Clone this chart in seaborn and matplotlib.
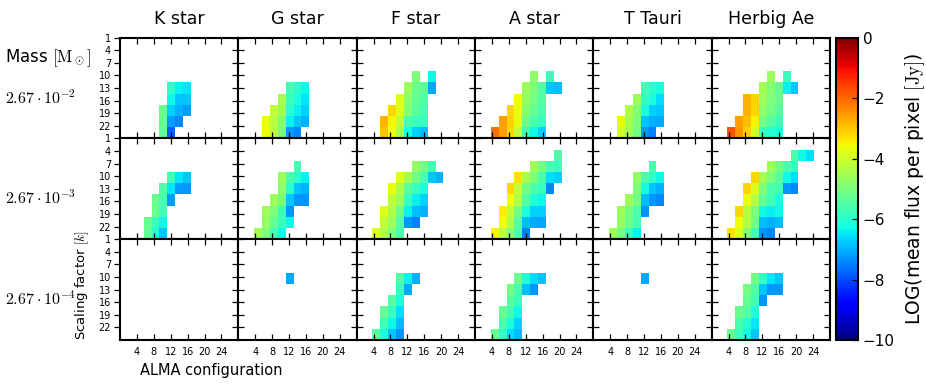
import numpy as np
import matplotlib
matplotlib.use('Agg')
import matplotlib.pyplot as plt
import matplotlib.lines as mlines
import seaborn as sns

plt.rcParams['mathtext.fontset'] = 'cm'

# Grid: 9 scaling-factor bins (1..25) x 15 ALMA configuration bins (0..28)
N_ROWS = 9
N_COLS = 15
CONFIG_RANGE = (0, 28)
SCALE_RANGE = (1, 25)
CONFIG_TICKS = [4, 8, 12, 16, 20, 24]
SCALE_TICKS = [1, 4, 7, 10, 13, 16, 19, 22]

STARS = ['K star', 'G star', 'F star', 'A star', 'T Tauri', 'Herbig Ae']
MASSES = [r'$2.67\cdot10^{-2}$', r'$2.67\cdot10^{-3}$', r'$2.67\cdot10^{-4}$']

# Each entry: (row, first column, LOG flux values along the row; None = empty cell)
K_HIGH = [
    (4, 6, [-5.9, -6.4, -6.5]),
    (5, 6, [-6.3, -6.8, -6.8]),
    (6, 5, [-5.2, -6.7, -7.0, -7.2]),
    (7, 5, [-5.3, -7.2, -7.4]),
    (8, 5, [-5.3, -7.8]),
]
G_HIGH = [
    (4, 6, [-5.7, -6.0, -6.3]),
    (5, 5, [-4.5, -5.8, -6.2, -6.5]),
    (6, 4, [-4.2, -4.6, -6.0, -6.4, -6.7]),
    (7, 3, [-3.7, -4.3, -5.0, -6.4, -6.8, -7.0]),
    (8, 3, [-3.6, -4.3, -5.0, -7.2, -7.4]),
]
F_HIGH = [
    (3, 7, [-5.0, None, -6.3]),
    (4, 6, [-4.6, -5.2, -5.4, -7.1]),
    (5, 5, [-3.8, -4.8, -5.3, -5.5]),
    (6, 4, [-3.2, -3.8, -4.9, -5.4, -5.7]),
    (7, 3, [-2.8, -3.5, -4.2, -5.6, -5.8, -5.8]),
    (8, 3, [-3.0, -3.6, -4.4, -6.2, -6.7, -6.9]),
]
A_HIGH = [
    (3, 7, [-4.8, None, -5.8]),
    (4, 6, [-4.6, -5.0, -5.5, -6.8, -6.9]),
    (5, 5, [-3.6, -4.7, -5.1, -5.5]),
    (6, 4, [-3.2, -3.7, -4.9, -5.3, -5.6]),
    (7, 3, [-2.6, -3.1, -3.7, -5.3, -5.6, -5.8]),
    (8, 2, [-2.1, -2.6, -3.2, -4.2, -5.8, -6.3, -6.7]),
]
T_HIGH = [
    (4, 6, [-5.7, -6.0, -6.2]),
    (5, 5, [-4.6, -5.8, -6.2, -6.6]),
    (6, 4, [-4.4, -4.9, -6.1, -6.7, -6.8]),
    (7, 3, [-3.7, -4.5, -5.0, -6.8, -7.0, -7.1]),
    (8, 3, [-4.0, -4.5, -5.1, -7.3, -7.5]),
]
H_HIGH = [
    (3, 7, [-4.6, None, -5.8]),
    (4, 6, [-4.5, -4.9, -5.2, -6.4, -6.8]),
    (5, 4, [-2.8, -3.2, -4.6, -5.0, -5.2]),
    (6, 4, [-2.8, -3.2, -4.8, -5.1, -5.4]),
    (7, 3, [-2.6, -2.9, -3.5, -5.1, -5.5, -5.7]),
    (8, 2, [-1.8, -2.5, -3.1, -4.0, -5.8, -6.0, -6.1]),
]

K_MID = [
    (3, 6, [-5.7, -6.5, -6.8]),
    (4, 5, [-5.5, -6.5, -7.2, -7.3]),
    (5, 4, [-5.2, -5.6, -7.2]),
    (6, 4, [-5.2, -5.7]),
    (7, 3, [-5.2, -5.8, -6.3]),
    (8, 3, [-5.3, -6.0, -6.8]),
]
G_MID = [
    (2, 7, [-5.7]),
    (3, 5, [-4.6, -5.6, -6.0, -6.4]),
    (4, 5, [-4.8, -6.0, -6.8, -7.0]),
    (5, 4, [-4.6, -5.1, -6.8, -7.3, -7.3]),
    (6, 3, [-4.6, -5.0, -5.8, -7.3]),
    (7, 3, [-4.7, -5.3, -5.8, -6.3]),
    (8, 2, [-4.5, -5.0, -5.7, -6.3]),
]
F_MID = [
    (2, 7, [-4.7, -5.1, -5.7]),
    (3, 5, [-3.8, -4.5, -5.1, -5.6, -6.8, -7.0]),
    (4, 4, [-3.7, -4.4, -5.4, -5.8, -6.2]),
    (5, 4, [-4.2, -4.6, -5.8, -6.4, -6.7]),
    (6, 3, [-3.8, -4.4, -5.2, -6.4, -6.9, -7.0]),
    (7, 3, [-4.2, -4.6, -5.5, -7.3, -7.5]),
    (8, 2, [-3.9, -4.4, -5.0, -5.6]),
]
A_MID = [
    (1, 10, [-5.6]),
    (2, 7, [-4.6, -5.1, -5.7, -5.8]),
    (3, 5, [-3.3, -4.5, -5.0, -5.6, -6.6, -6.7]),
    (4, 4, [-3.2, -4.2, -5.1, -5.6, -5.8, -7.4]),
    (5, 4, [-3.6, -4.4, -5.5, -6.1, -6.3]),
    (6, 3, [-3.4, -4.2, -5.1, -6.2, -6.7, -6.7]),
    (7, 3, [-3.6, -4.4, -5.5, -6.9, -7.1, -7.1]),
    (8, 2, [-3.5, -4.3, -4.9, -5.6, -7.5]),
]
T_MID = [
    (2, 7, [-5.6]),
    (3, 5, [-4.7, -5.6, -5.9, -6.3]),
    (4, 5, [-5.0, -6.2, -6.8, -7.0]),
    (5, 4, [-4.6, -5.1, -6.9, -7.3, -7.4]),
    (6, 3, [-4.6, -5.1, -5.6, -7.3]),
    (7, 3, [-4.7, -5.2, -5.6]),
    (8, 2, [-4.6, -5.1, -5.8, -6.4]),
]
H_MID = [
    (1, 10, [-5.6, -6.3, -6.6]),
    (2, 7, [-4.6, -5.1, -5.6, -5.8]),
    (3, 5, [-3.2, -4.5, -5.0, -5.4, -6.3, -6.6]),
    (4, 4, [-3.2, -3.8, -5.0, -5.6, -5.7, -7.3, -7.4]),
    (5, 4, [-3.7, -4.3, -5.3, -5.7, -6.2]),
    (6, 3, [-3.2, -4.3, -5.0, -6.3, -6.4, -6.3]),
    (7, 3, [-3.6, -4.3, -5.1, -6.9, -7.0, -6.9]),
    (8, 2, [-3.3, -3.9, -4.9, -5.7, -7.3, -7.4]),
]

K_LOW = []
G_LOW = [(3, 6, [-7.1])]
F_LOW = [
    (3, 5, [-5.5, -6.4, -7.0]),
    (4, 5, [-5.8, -7.1]),
    (5, 4, [-5.5, -6.2]),
    (6, 3, [-5.3, -5.8, -6.6]),
    (7, 3, [-5.7, -6.3, -6.9]),
    (8, 2, [-5.4, -6.2, -6.8, -7.3]),
]
A_LOW = [
    (3, 5, [-5.2, -6.1, -6.6, -6.8]),
    (4, 4, [-5.1, -5.6, -6.9, -7.3]),
    (5, 4, [-5.4, -5.8]),
    (6, 3, [-5.3, -5.7, -6.3]),
    (7, 3, [-5.6, -6.2, -6.7]),
    (8, 2, [-5.3, -5.9, -6.6, -6.9]),
]
T_LOW = [(3, 6, [-7.1])]
H_LOW = [
    (3, 5, [-5.1, -5.9, -6.5, -6.8]),
    (4, 4, [-5.1, -5.5, -6.8, -7.3, -7.3]),
    (5, 4, [-5.3, -5.7, -7.3]),
    (6, 3, [-5.2, -5.5, -6.1]),
    (7, 3, [-5.6, -6.0, -6.5]),
    (8, 2, [-5.2, -5.8, -6.3, -6.8]),
]

PANELS = [
    [K_HIGH, G_HIGH, F_HIGH, A_HIGH, T_HIGH, H_HIGH],
    [K_MID, G_MID, F_MID, A_MID, T_MID, H_MID],
    [K_LOW, G_LOW, F_LOW, A_LOW, T_LOW, H_LOW],
]


def build_grid(rows):
    grid = np.full((N_ROWS, N_COLS), np.nan)
    for r, c0, vals in rows:
        for i, v in enumerate(vals):
            if v is not None:
                grid[r, c0 + i] = v
    return grid


def config_pos(v):
    return (v - CONFIG_RANGE[0]) * N_COLS / (CONFIG_RANGE[1] - CONFIG_RANGE[0])


def scale_pos(v):
    return (v - SCALE_RANGE[0]) * N_ROWS / (SCALE_RANGE[1] - SCALE_RANGE[0])


LEFT, RIGHT, TOP, BOTTOM = 120 / 926, 830 / 926, 1 - 37.7 / 391, 1 - 340 / 391

fig, axes = plt.subplots(3, 6, figsize=(9.26, 3.91), dpi=100)
fig.subplots_adjust(left=LEFT, right=RIGHT, top=TOP, bottom=BOTTOM, wspace=0, hspace=0)

for i in range(3):
    for j in range(6):
        ax = axes[i, j]
        sns.heatmap(build_grid(PANELS[i][j]), ax=ax, cmap='jet', vmin=-10, vmax=0,
                    cbar=False, xticklabels=False, yticklabels=False)
        for sp in ax.spines.values():
            sp.set_visible(True)
            sp.set_linewidth(1.5)
        ax.set_xticks([config_pos(v) for v in CONFIG_TICKS])
        ax.set_yticks([scale_pos(v) for v in SCALE_TICKS])
        ax.set_xticklabels([str(v) for v in CONFIG_TICKS] if i == 2 else [])
        ax.set_yticklabels([str(v) for v in SCALE_TICKS] if j == 0 else [], rotation=0)
        ax.tick_params(direction='in', top=True, right=True, length=4.5, width=0.9,
                       labelsize=7, pad=5)
        if j == 0:
            # left ticks of the first column point outwards
            ax.tick_params(axis='y', pad=6.5)
            for t in ax.yaxis.get_major_ticks():
                t.tick1line.set_marker(mlines.TICKLEFT)
        if i == 0:
            ax.set_title(STARS[j], fontsize=12.5, pad=10)

# Row labels
fig.text(0.005, 1 - 58 / 391, r'Mass $[\mathrm{M}_\odot]$', fontsize=12, va='center', ha='left')
for i, m in enumerate(MASSES):
    yc = 1 - (97 + i * 100.8) / 391
    fig.text(0.005, yc, m, fontsize=11.5, va='center', ha='left')

fig.text(82 / 926, 1 - 285 / 391, r'Scaling factor $[k]$', fontsize=9.5, rotation=90,
         va='center', ha='center')
fig.text(211 / 926, 1 - 370 / 391, 'ALMA configuration', fontsize=10.5, va='center', ha='center')

# Colorbar
cax = fig.add_axes([836 / 926, BOTTOM, 22 / 926, TOP - BOTTOM])
cb = fig.colorbar(axes[0, 0].collections[0], cax=cax, ticks=[0, -2, -4, -6, -8, -10])
cb.outline.set_linewidth(1.5)
cb.ax.tick_params(labelsize=11, direction='in', length=4, width=0.9)
cb.set_label(r'LOG(mean flux per pixel $[\mathrm{Jy}]$)', fontsize=13.5, labelpad=6)

plt.savefig('out.png', dpi=100, facecolor='white')
